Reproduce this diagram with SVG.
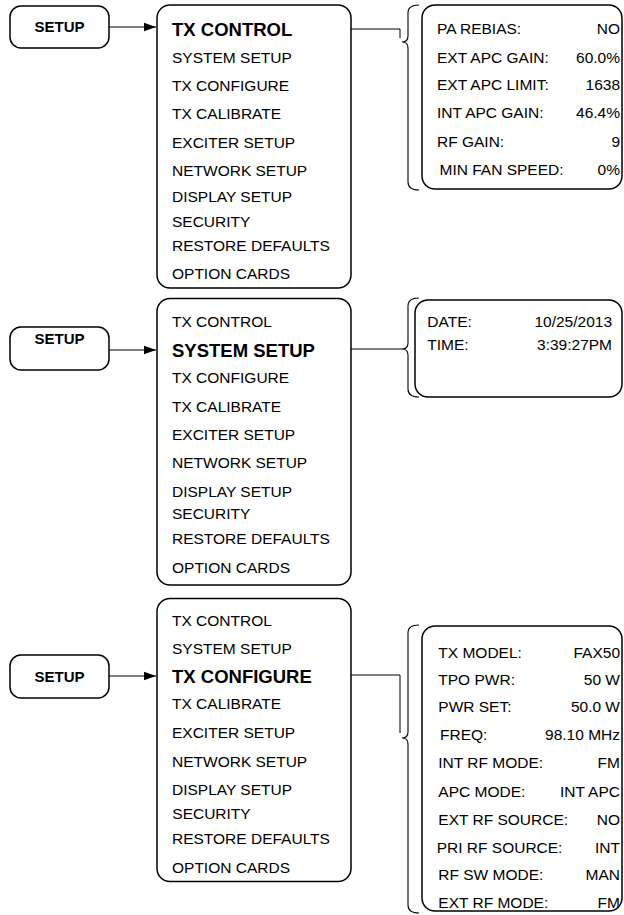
<svg xmlns="http://www.w3.org/2000/svg" width="624" height="915" viewBox="0 0 624 915">
<defs>
<marker id="ah" markerWidth="12" markerHeight="10" refX="12" refY="5" orient="auto" markerUnits="userSpaceOnUse">
<path d="M0,0.8 L12,5 L0,9.2 Z" fill="#000"/>
</marker>
<style>
.box{fill:#fff;stroke:#000;stroke-width:1.5}
.ln{fill:none;stroke:#000;stroke-width:1}
.br{fill:none;stroke:#000;stroke-width:1.1}
text{font-family:"Liberation Sans",Arial,sans-serif;fill:#000}
.m{font-size:15.5px}
.b{font-size:18.5px;font-weight:bold}
.s{font-size:15px;font-weight:bold}
.v{text-anchor:end}
</style>
</defs>
<rect width="624" height="915" fill="#fff"/>

<g id="connectors">
<line class="ln" x1="109" y1="27" x2="156" y2="27" marker-end="url(#ah)"/>
<line class="ln" x1="109" y1="350" x2="156" y2="350" marker-end="url(#ah)"/>
<line class="ln" x1="109" y1="676" x2="156" y2="676" marker-end="url(#ah)"/>
<path class="ln" d="M351,29 H400 V38"/>
<path class="ln" d="M351,349 H402"/>
<path class="ln" d="M351,675 H400 V733"/>
</g>

<g id="brace1"><path class="br" d="M419,5 Q408,5 408,13 V36 Q408,42 402,42 Q408,42 408,48 V182 Q408,190 419,190"/></g>
<g id="brace2"><path class="br" d="M419,298 Q408,298 408,306 V343 Q408,349 402,349 Q408,349 408,355 V389 Q408,397 419,397"/></g>
<g id="brace3"><path class="br" d="M419,625 Q408,625 408,633 V732 Q408,738 402,738 Q408,738 408,744 V905 Q408,913 419,913"/></g>

<!-- Section 1 -->
<g id="setup1">
<rect class="box" x="10" y="6" width="99" height="42" rx="11"/>
<text class="s" x="59.5" y="32" text-anchor="middle">SETUP</text>
</g>
<g id="menu1">
<rect class="box" x="157" y="5" width="194" height="283" rx="13"/>
<text class="b" x="172" y="35.7">TX CONTROL</text>
<text class="m" x="172" y="62.7">SYSTEM SETUP</text>
<text class="m" x="172" y="90.7">TX CONFIGURE</text>
<text class="m" x="172" y="119">TX CALIBRATE</text>
<text class="m" x="172" y="148">EXCITER SETUP</text>
<text class="m" x="172" y="175.7">NETWORK SETUP</text>
<text class="m" x="172" y="201.7">DISPLAY SETUP</text>
<text class="m" x="172" y="226.7">SECURITY</text>
<text class="m" x="172" y="251">RESTORE DEFAULTS</text>
<text class="m" x="172" y="279.3">OPTION CARDS</text>
</g>
<g id="panel1">
<rect class="box" x="422" y="5" width="200" height="184" rx="13"/>
<text class="m" x="437" y="34.3">PA REBIAS:</text><text class="m v" x="620" y="34.3">NO</text>
<text class="m" x="437" y="63.3">EXT APC GAIN:</text><text class="m v" x="620" y="63.3">60.0%</text>
<text class="m" x="437" y="90">EXT APC LIMIT:</text><text class="m v" x="620" y="90">1638</text>
<text class="m" x="437" y="118.3">INT APC GAIN:</text><text class="m v" x="620" y="118.3">46.4%</text>
<text class="m" x="437" y="146.7">RF GAIN:</text><text class="m v" x="620" y="146.7">9</text>
<text class="m" x="439.5" y="175">MIN FAN SPEED:</text><text class="m v" x="620" y="175">0%</text>
</g>

<!-- Section 2 -->
<g id="setup2">
<rect class="box" x="10" y="327" width="99" height="43" rx="11"/>
<text class="s" x="59.5" y="343.5" text-anchor="middle">SETUP</text>
</g>
<g id="menu2">
<rect class="box" x="157" y="298.5" width="194" height="286.5" rx="13"/>
<text class="m" x="172" y="326.7">TX CONTROL</text>
<text class="b" x="172" y="356.7">SYSTEM SETUP</text>
<text class="m" x="172" y="383.3">TX CONFIGURE</text>
<text class="m" x="172" y="411.7">TX CALIBRATE</text>
<text class="m" x="172" y="440">EXCITER SETUP</text>
<text class="m" x="172" y="468.3">NETWORK SETUP</text>
<text class="m" x="172" y="496.7">DISPLAY SETUP</text>
<text class="m" x="172" y="519.3">SECURITY</text>
<text class="m" x="172" y="544.3">RESTORE DEFAULTS</text>
<text class="m" x="172" y="572.7">OPTION CARDS</text>
</g>
<g id="panel2">
<rect class="box" x="415" y="300" width="207" height="97" rx="13"/>
<text class="m" x="427.3" y="326.7">DATE:</text><text class="m v" x="612" y="326.7">10/25/2013</text>
<text class="m" x="427.3" y="350">TIME:</text><text class="m v" x="612" y="350">3:39:27PM</text>
</g>

<!-- Section 3 -->
<g id="setup3">
<rect class="box" x="10" y="655" width="99" height="43" rx="11"/>
<text class="s" x="59.5" y="681.5" text-anchor="middle">SETUP</text>
</g>
<g id="menu3">
<rect class="box" x="157" y="598.5" width="194" height="283" rx="13"/>
<text class="m" x="172" y="625.7">TX CONTROL</text>
<text class="m" x="172" y="654">SYSTEM SETUP</text>
<text class="b" x="172" y="682.7">TX CONFIGURE</text>
<text class="m" x="172" y="709.3">TX CALIBRATE</text>
<text class="m" x="172" y="738.3">EXCITER SETUP</text>
<text class="m" x="172" y="766.7">NETWORK SETUP</text>
<text class="m" x="172" y="795">DISPLAY SETUP</text>
<text class="m" x="172.3" y="819.3">SECURITY</text>
<text class="m" x="172" y="844.3">RESTORE DEFAULTS</text>
<text class="m" x="172" y="872.7">OPTION CARDS</text>
</g>
<g id="panel3">
<rect class="box" x="422" y="626" width="200" height="285" rx="13"/>
<text class="m" x="438.3" y="657.7">TX MODEL:</text><text class="m v" x="620" y="657.7">FAX50</text>
<text class="m" x="438.3" y="685">TPO PWR:</text><text class="m v" x="620" y="685">50 W</text>
<text class="m" x="438.3" y="711.7">PWR SET:</text><text class="m v" x="620" y="711.7">50.0 W</text>
<text class="m" x="440" y="740">FREQ:</text><text class="m v" x="620" y="740">98.10 MHz</text>
<text class="m" x="438.3" y="768.3">INT RF MODE:</text><text class="m v" x="620" y="768.3">FM</text>
<text class="m" x="438.3" y="796.7">APC MODE:</text><text class="m v" x="620" y="796.7">INT APC</text>
<text class="m" x="438.3" y="825">EXT RF SOURCE:</text><text class="m v" x="620" y="825">NO</text>
<text class="m" x="436.7" y="852.7">PRI RF SOURCE:</text><text class="m v" x="620" y="852.7">INT</text>
<text class="m" x="438.3" y="880">RF SW MODE:</text><text class="m v" x="620" y="880">MAN</text>
<text class="m" x="438.3" y="908.3">EXT RF MODE:</text><text class="m v" x="620" y="908.3">FM</text>
</g>
</svg>
